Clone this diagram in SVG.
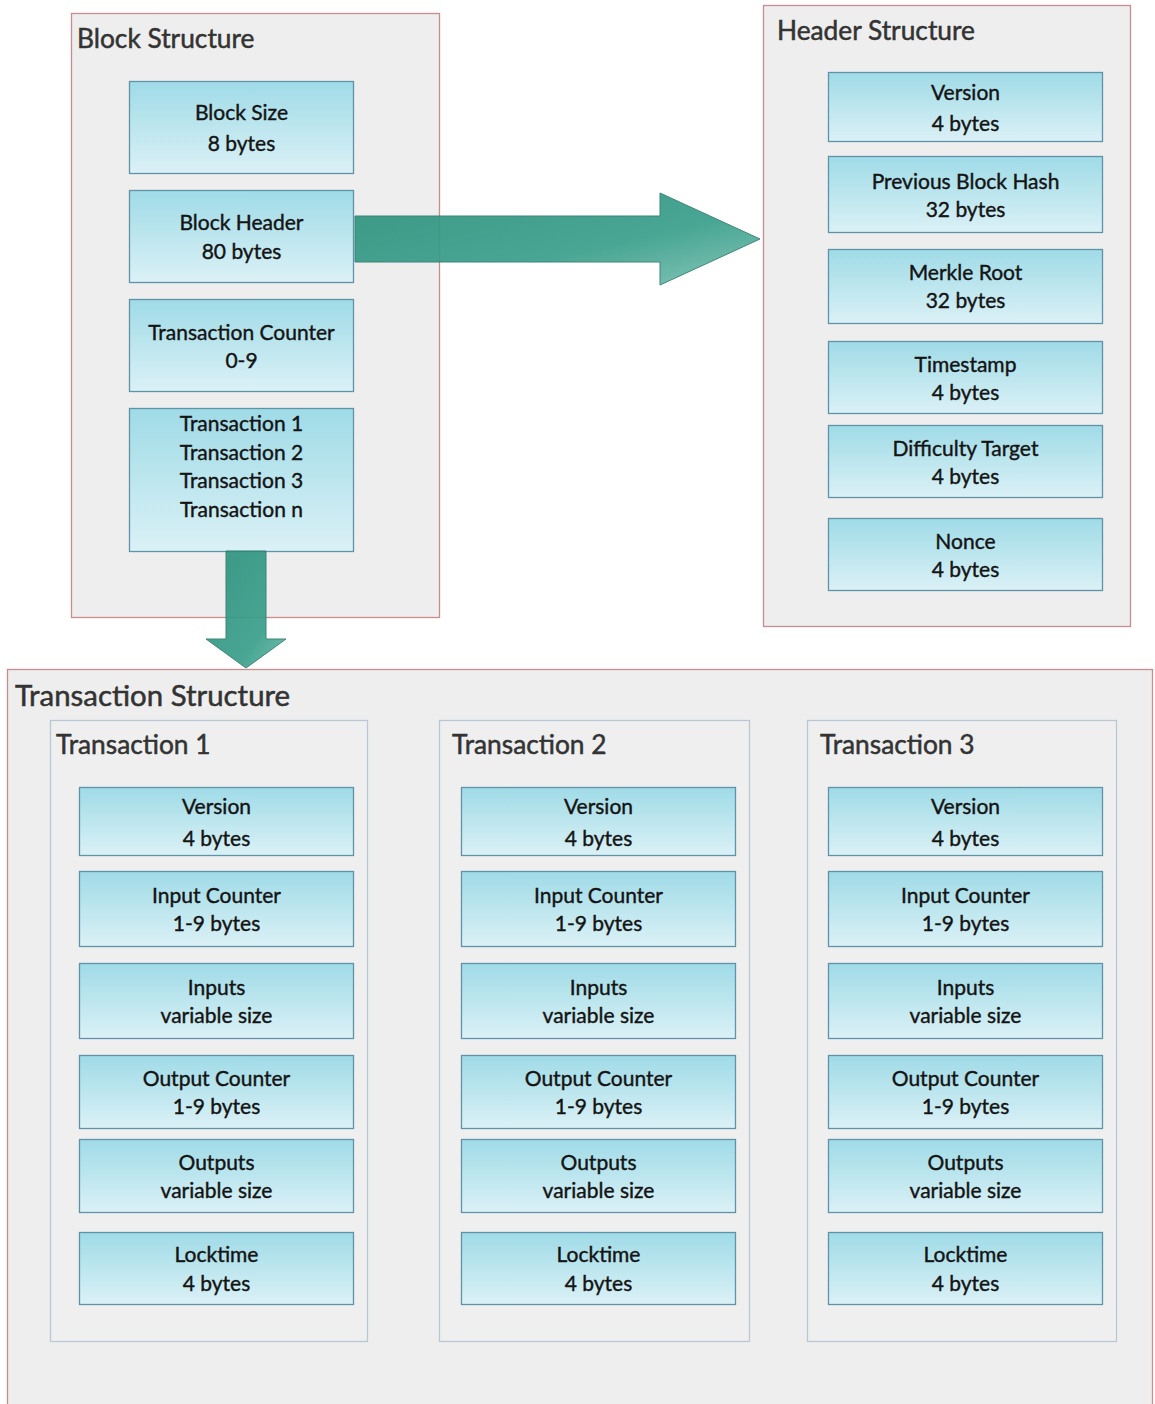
<svg xmlns="http://www.w3.org/2000/svg" width="1155" height="1404" viewBox="0 0 1155 1404">
  <defs>
    <linearGradient id="cellFill" x1="0" y1="0" x2="0" y2="1">
      <stop offset="0" stop-color="#9fdbe7"/>
      <stop offset="1" stop-color="#dbf1f6"/>
    </linearGradient>
    <linearGradient id="arrowFill" x1="0" y1="0" x2="1" y2="1">
      <stop offset="0" stop-color="#2c917c"/>
      <stop offset="0.6" stop-color="#3a9f8b"/>
      <stop offset="1" stop-color="#7cc2b4"/>
    </linearGradient>
    <linearGradient id="arrowFillV" x1="0" y1="0" x2="1" y2="1">
      <stop offset="0" stop-color="#2c917c"/>
      <stop offset="0.7" stop-color="#3a9f8b"/>
      <stop offset="1" stop-color="#6dbbaa"/>
    </linearGradient>
  </defs>
  <style>
    .panel { fill: #eeeeee; stroke: #c98c90; stroke-width: 1.3; }
    .sub { fill: #efefef; stroke: #b9c8d6; stroke-width: 1.3; }
    .cell { fill: url(#cellFill); stroke: #5f93aa; stroke-width: 1.3; }
    .title { font-family: Lato, "Liberation Sans", sans-serif; font-size: 26.3px; fill: #333333; stroke: #333333; stroke-width: 0.5; }
    .title.big { font-size: 29.4px; }
    .subtitle { font-family: Lato, "Liberation Sans", sans-serif; font-size: 26.3px; fill: #333333; stroke: #333333; stroke-width: 0.5; }
    .label { font-family: Lato, "Liberation Sans", sans-serif; font-size: 21px; fill: #141414; stroke: #141414; stroke-width: 0.4; text-anchor: middle; }
    .arrow { stroke: #2d7d6e; stroke-width: 1; opacity: 0.92; }
  </style>

  <rect width="1155" height="1404" fill="#ffffff"/>

  <!-- Block structure panel -->
  <g id="block-structure">
    <rect class="panel" x="71.5" y="13.5" width="368" height="604"/>
    <text class="title" x="77" y="48">Block Structure</text>
    <g id="block-size">
      <rect class="cell" x="129.5" y="81.5" width="224" height="92"/>
      <text class="label" x="241.5" y="120">Block Size</text>
      <text class="label" x="241.5" y="151">8 bytes</text>
    </g>
    <g id="block-header">
      <rect class="cell" x="129.5" y="190.5" width="224" height="92"/>
      <text class="label" x="241.5" y="230">Block Header</text>
      <text class="label" x="241.5" y="259">80 bytes</text>
    </g>
    <g id="transaction-counter">
      <rect class="cell" x="129.5" y="299.5" width="224" height="92"/>
      <text class="label" x="241.5" y="340">Transaction Counter</text>
      <text class="label" x="241.5" y="368">0-9</text>
    </g>
    <g id="transactions">
      <rect class="cell" x="129.5" y="408.5" width="224" height="143"/>
      <text class="label" x="241.5" y="431">Transaction 1</text>
      <text class="label" x="241.5" y="460">Transaction 2</text>
      <text class="label" x="241.5" y="488">Transaction 3</text>
      <text class="label" x="241.5" y="517">Transaction n</text>
    </g>
  </g>

  <!-- Header structure panel -->
  <g id="header-structure">
    <rect class="panel" x="763.5" y="5.5" width="367" height="621"/>
    <text class="title" x="777" y="40">Header Structure</text>
    <g id="hdr-version">
      <rect class="cell" x="828.5" y="72.5" width="274" height="69"/>
      <text class="label" x="965.5" y="100">Version</text>
      <text class="label" x="965.5" y="131">4 bytes</text>
    </g>
    <g id="hdr-prev-hash">
      <rect class="cell" x="828.5" y="156.5" width="274" height="76"/>
      <text class="label" x="965.5" y="189">Previous Block Hash</text>
      <text class="label" x="965.5" y="217">32 bytes</text>
    </g>
    <g id="hdr-merkle">
      <rect class="cell" x="828.5" y="249.5" width="274" height="74"/>
      <text class="label" x="965.5" y="280">Merkle Root</text>
      <text class="label" x="965.5" y="308">32 bytes</text>
    </g>
    <g id="hdr-timestamp">
      <rect class="cell" x="828.5" y="341.5" width="274" height="72"/>
      <text class="label" x="965.5" y="372">Timestamp</text>
      <text class="label" x="965.5" y="400">4 bytes</text>
    </g>
    <g id="hdr-difficulty">
      <rect class="cell" x="828.5" y="425.5" width="274" height="72"/>
      <text class="label" x="965.5" y="456">Difficulty Target</text>
      <text class="label" x="965.5" y="484">4 bytes</text>
    </g>
    <g id="hdr-nonce">
      <rect class="cell" x="828.5" y="518.5" width="274" height="72"/>
      <text class="label" x="965.5" y="549">Nonce</text>
      <text class="label" x="965.5" y="577">4 bytes</text>
    </g>
  </g>

  <!-- Transaction structure panel -->
  <g id="transaction-structure">
    <rect class="panel" x="7.5" y="669.5" width="1145" height="760"/>
    <text class="title big" x="15" y="706">Transaction Structure</text>

    <g id="tx1">
      <rect class="sub" x="50.5" y="720.5" width="317" height="621"/>
      <text class="subtitle" x="56" y="754">Transaction 1</text>
      <g id="tx1-version"><rect class="cell" x="79.5" y="787.5" width="274" height="68"/>
        <text class="label" x="216.5" y="814">Version</text><text class="label" x="216.5" y="846">4 bytes</text></g>
      <g id="tx1-input-counter"><rect class="cell" x="79.5" y="871.5" width="274" height="75"/>
        <text class="label" x="216.5" y="903">Input Counter</text><text class="label" x="216.5" y="931">1-9 bytes</text></g>
      <g id="tx1-inputs"><rect class="cell" x="79.5" y="963.5" width="274" height="75"/>
        <text class="label" x="216.5" y="995">Inputs</text><text class="label" x="216.5" y="1023">variable size</text></g>
      <g id="tx1-output-counter"><rect class="cell" x="79.5" y="1055.5" width="274" height="73"/>
        <text class="label" x="216.5" y="1086">Output Counter</text><text class="label" x="216.5" y="1114">1-9 bytes</text></g>
      <g id="tx1-outputs"><rect class="cell" x="79.5" y="1139.5" width="274" height="73"/>
        <text class="label" x="216.5" y="1170">Outputs</text><text class="label" x="216.5" y="1198">variable size</text></g>
      <g id="tx1-locktime"><rect class="cell" x="79.5" y="1232.5" width="274" height="72"/>
        <text class="label" x="216.5" y="1262">Locktime</text><text class="label" x="216.5" y="1291">4 bytes</text></g>
    </g>

    <g id="tx2">
      <rect class="sub" x="439.5" y="720.5" width="310" height="621"/>
      <text class="subtitle" x="452" y="754">Transaction 2</text>
      <g id="tx2-version"><rect class="cell" x="461.5" y="787.5" width="274" height="68"/>
        <text class="label" x="598.5" y="814">Version</text><text class="label" x="598.5" y="846">4 bytes</text></g>
      <g id="tx2-input-counter"><rect class="cell" x="461.5" y="871.5" width="274" height="75"/>
        <text class="label" x="598.5" y="903">Input Counter</text><text class="label" x="598.5" y="931">1-9 bytes</text></g>
      <g id="tx2-inputs"><rect class="cell" x="461.5" y="963.5" width="274" height="75"/>
        <text class="label" x="598.5" y="995">Inputs</text><text class="label" x="598.5" y="1023">variable size</text></g>
      <g id="tx2-output-counter"><rect class="cell" x="461.5" y="1055.5" width="274" height="73"/>
        <text class="label" x="598.5" y="1086">Output Counter</text><text class="label" x="598.5" y="1114">1-9 bytes</text></g>
      <g id="tx2-outputs"><rect class="cell" x="461.5" y="1139.5" width="274" height="73"/>
        <text class="label" x="598.5" y="1170">Outputs</text><text class="label" x="598.5" y="1198">variable size</text></g>
      <g id="tx2-locktime"><rect class="cell" x="461.5" y="1232.5" width="274" height="72"/>
        <text class="label" x="598.5" y="1262">Locktime</text><text class="label" x="598.5" y="1291">4 bytes</text></g>
    </g>

    <g id="tx3">
      <rect class="sub" x="807.5" y="720.5" width="309" height="621"/>
      <text class="subtitle" x="820" y="754">Transaction 3</text>
      <g id="tx3-version"><rect class="cell" x="828.5" y="787.5" width="274" height="68"/>
        <text class="label" x="965.5" y="814">Version</text><text class="label" x="965.5" y="846">4 bytes</text></g>
      <g id="tx3-input-counter"><rect class="cell" x="828.5" y="871.5" width="274" height="75"/>
        <text class="label" x="965.5" y="903">Input Counter</text><text class="label" x="965.5" y="931">1-9 bytes</text></g>
      <g id="tx3-inputs"><rect class="cell" x="828.5" y="963.5" width="274" height="75"/>
        <text class="label" x="965.5" y="995">Inputs</text><text class="label" x="965.5" y="1023">variable size</text></g>
      <g id="tx3-output-counter"><rect class="cell" x="828.5" y="1055.5" width="274" height="73"/>
        <text class="label" x="965.5" y="1086">Output Counter</text><text class="label" x="965.5" y="1114">1-9 bytes</text></g>
      <g id="tx3-outputs"><rect class="cell" x="828.5" y="1139.5" width="274" height="73"/>
        <text class="label" x="965.5" y="1170">Outputs</text><text class="label" x="965.5" y="1198">variable size</text></g>
      <g id="tx3-locktime"><rect class="cell" x="828.5" y="1232.5" width="274" height="72"/>
        <text class="label" x="965.5" y="1262">Locktime</text><text class="label" x="965.5" y="1291">4 bytes</text></g>
    </g>
  </g>

  <!-- Block arrows linking the panels -->
  <g id="connectors">
    <path class="arrow" fill="url(#arrowFill)" d="M355,216 L660,216 L660,193 L760,239 L660,285 L660,262 L355,262 Z"/>
    <path class="arrow" fill="url(#arrowFillV)" d="M226,551 L266,551 L266,639 L286,639 L246,668 L206,639 L226,639 Z"/>
  </g>
</svg>
